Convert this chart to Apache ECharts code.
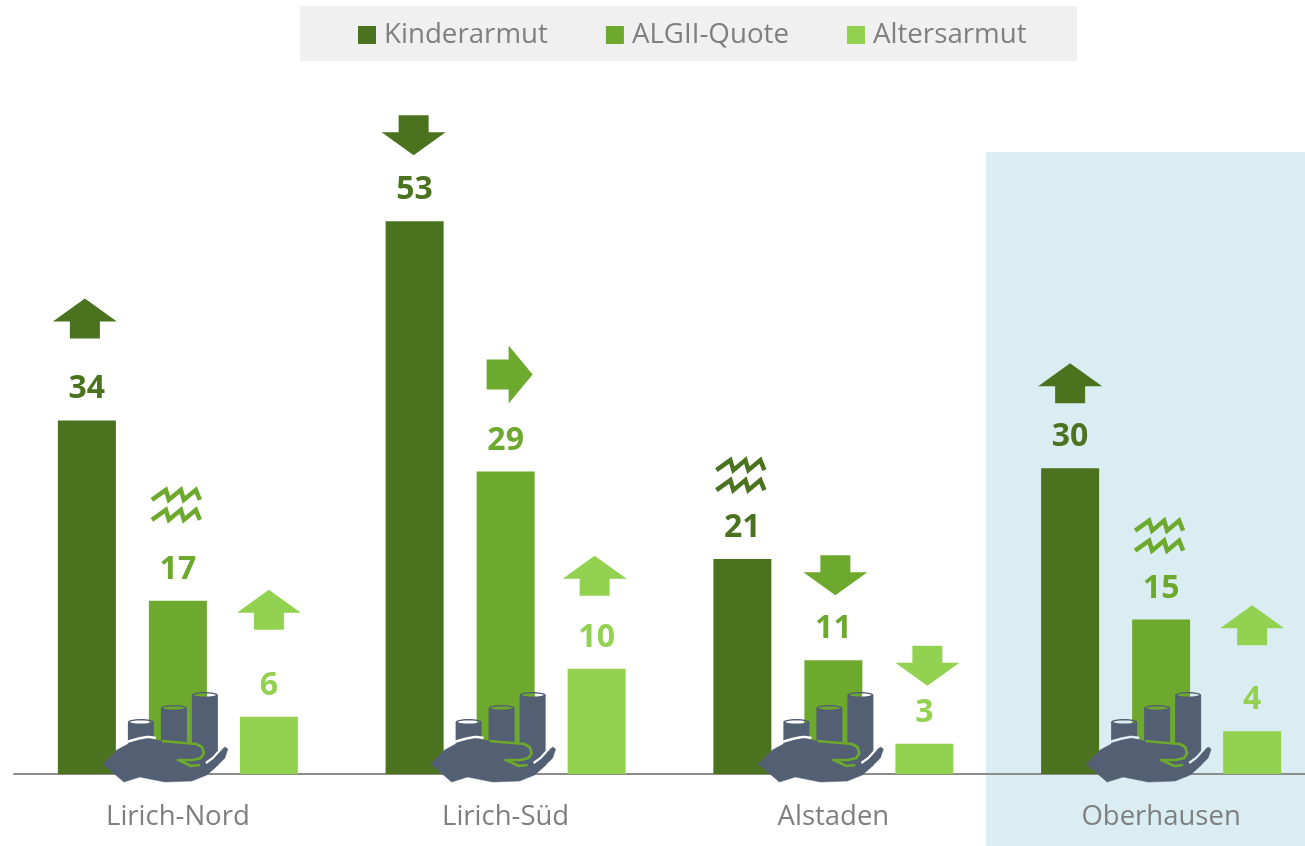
<!DOCTYPE html>
<html><head><meta charset="utf-8">
<style>html,body{margin:0;padding:0;background:#fff;overflow:hidden}#c{width:1305px;height:846px}</style>
<script src="https://cdn.jsdelivr.net/npm/echarts@6/dist/echarts.min.js"></script>
</head><body><div id="c"></div>
<script>
const categories = ['Lirich-Nord','Lirich-Süd','Alstaden','Oberhausen'];
const seriesNames = ['Kinderarmut','ALGII-Quote','Altersarmut'];
const kinderarmut = [33.9, 53, 20.6, 29.3];
const algiiQuote = [16.6, 29, 10.9, 14.8];
const altersarmut = [5.5, 10.1, 2.9, 4.1];
const kinderLabels = [34, 53, 21, 30];
const algiiLabels = [17, 29, 11, 15];
const altersLabels = [6, 10, 3, 4];
const kinderTrend = ['up','down','wave','up'];
const algiiTrend = ['wave','right','down','wave'];
const altersTrend = ['up','up','down','up'];
const colors = ['#4b731f','#6da92d','#92d250'];

// layout of the trend glyphs above each bar
const trendGap = [[82,66,67,65],[79,68,65,67],[87,73,58,86]];
const trendShift = [[-2,-1,-2,0],[-2,4,2,-2],[0,-2,3,0]];
const slotWidth = 91;

function arrowPts(k){
  const up=[[0,-20],[32,3],[15,3],[15,20],[-15,20],[-15,3],[-32,3]];
  if(k==='up') return up;
  if(k==='down') return up.map(p=>[p[0],-p[1]]);
  return [[-23,-15],[-1,-15],[-1,-29],[23,0],[-1,29],[-1,15],[-23,15]];
}
function makeBar(i,vals,labs){
  return {name:seriesNames[i],type:'bar',data:vals,barWidth:58,barGap:'56.9%',z:2,
    itemStyle:{color:colors[i]},
    label:{show:true,position:'top',distance:15,color:colors[i],fontFamily:'Open Sans',fontWeight:'bold',fontSize:32,
      formatter:p=>labs[p.dataIndex]}};
}
const trends = [kinderTrend,algiiTrend,altersTrend];
const values = [kinderarmut,algiiQuote,altersarmut];
const trendData = [];
trends.forEach((t,s)=>t.forEach((k,c)=>trendData.push([c,values[s][c],s,k])));

function renderTrend(params,api){
  const c=api.value(0), v=api.value(1), s=api.value(2), k=trendData[params.dataIndex][3];
  const pt=api.coord([c,v]);
  const x=pt[0]+(s-1)*slotWidth+trendShift[s][c];
  const gap=trendGap[s][c];
  const col=colors[s];
  if(k==='wave'){
    const z=[[0,10],[14,0],[17,10],[29,0],[32,10],[44,0],[48,10]];
    const yb=pt[1]-gap-34;
    return {type:'group',children:[2,22].map(o=>({type:'polyline',
      shape:{points:z.map(p=>[x-24+p[0],yb+o+p[1]])},
      style:{fill:'none',stroke:col,lineWidth:4.5,lineJoin:'miter'}}))};
  }
  const h=k==='right'?29:20;
  const cy=pt[1]-gap-h;
  return {type:'polygon',shape:{points:arrowPts(k).map(p=>[x+p[0],cy+p[1]])},style:{fill:col}};
}

const slate='#535f73';
const handPts=[[-75,-10],[-61,-24],[-48,-31],[-31,-35],[-21,-34],[-13,-32],[7,-31],[18.7,-30],[24,-27],[26,-21],[23,-16],[22,-9],[30,-11],[38,-19],[47,-27],[50,-25],[47,-16],[37,-6],[29,1],[14,7],[-13,8],[-38,3],[-54,8]];
const greenLine=[[-16,-33],[-5,-32],[7,-31],[18.7,-30],[24,-27],[26,-21],[23,-16],[15,-14],[0,-14],[7,-11],[13,-8],[22,-9]];
const whiteGap=[[28,-11],[35,-16],[43,-25]];
const whiteArc=[[-61,-27],[-48,-33],[-31,-37],[-22,-36]];
function cyl(cx,top,capStops){
  return [
    {type:'rect',shape:{x:cx-13,y:top,width:26,height:-top-8},style:{fill:slate}},
    {type:'ellipse',shape:{cx:cx,cy:top,rx:13,ry:3},style:{fill:slate}},
    {type:'ellipse',shape:{cx:cx,cy:top,rx:11,ry:1.5},style:{fill:new echarts.graphic.LinearGradient(0,0,1,0,capStops)}}
  ];
}
function renderHand(params,api){
  const pt=api.coord([api.value(0),0]);
  const bg=params.dataIndex===3?'#daedf3':'#ffffff', g=colors[1];
  const hard=(f,a,b)=>[{offset:0,color:a},{offset:f,color:a},{offset:f,color:b},{offset:1,color:b}];
  const kids=[].concat(
    cyl(-37,-52,hard(.86,bg,g)),
    cyl(-4,-66,hard(.5,g,g)),
    cyl(27,-79,hard(.59,g,bg))
  );
  kids.push({type:'polyline',shape:{points:whiteArc,smooth:0.3},style:{fill:'none',stroke:bg,lineWidth:2.5}});
  kids.push({type:'polygon',shape:{points:handPts},style:{fill:slate,stroke:slate,lineWidth:.5,lineJoin:'round'}});
  kids.push({type:'polyline',shape:{points:whiteGap},style:{fill:'none',stroke:bg,lineWidth:2.2}});
  kids.push({type:'polyline',shape:{points:greenLine},style:{fill:'none',stroke:g,lineWidth:2.6,lineJoin:'round'}});
  return {type:'group',x:pt[0],y:pt[1],children:kids};
}

const chart=echarts.init(document.getElementById('c'),null,{renderer:'canvas'});
chart.setOption({
  animation:false,
  backgroundColor:'#fff',
  graphic:[
    {type:'rect',z:-10,silent:true,shape:{x:986,y:152,width:319,height:694},style:{fill:'#daedf3'}},
    {type:'rect',z:-10,silent:true,shape:{x:300,y:6,width:777,height:55},style:{fill:'#f0f0f0'}}
  ],
  legend:{top:21,left:358,data:seriesNames,icon:'rect',itemWidth:18,itemHeight:18,itemGap:58,padding:0,
    textStyle:{color:'#7f7f7f',fontFamily:'Open Sans',fontSize:27.7,padding:[0,0,0,3]}},
  grid:{left:14,width:1311,top:0,bottom:72,outerBoundsMode:'none'},
  xAxis:{type:'category',data:categories,axisTick:{show:false},
    axisLine:{lineStyle:{color:'#8c8c8c',width:2}},
    axisLabel:{color:'#7f7f7f',fontFamily:'Open Sans',fontSize:27.5,margin:29}},
  yAxis:{type:'value',min:0,max:74.2,show:false,splitLine:{show:false}},
  series:[
    makeBar(0,kinderarmut,kinderLabels),
    makeBar(1,algiiQuote,algiiLabels),
    makeBar(2,altersarmut,altersLabels),
    {type:'custom',name:'trend',z:3,clip:false,encode:{x:0,y:1},data:trendData.map(d=>d.slice(0,3)),renderItem:renderTrend,silent:true},
    {type:'custom',name:'icon',z:4,clip:false,encode:{x:0,y:1},data:categories.map((c,i)=>[i,0]),renderItem:renderHand,silent:true}
  ]
});
</script></body></html>
